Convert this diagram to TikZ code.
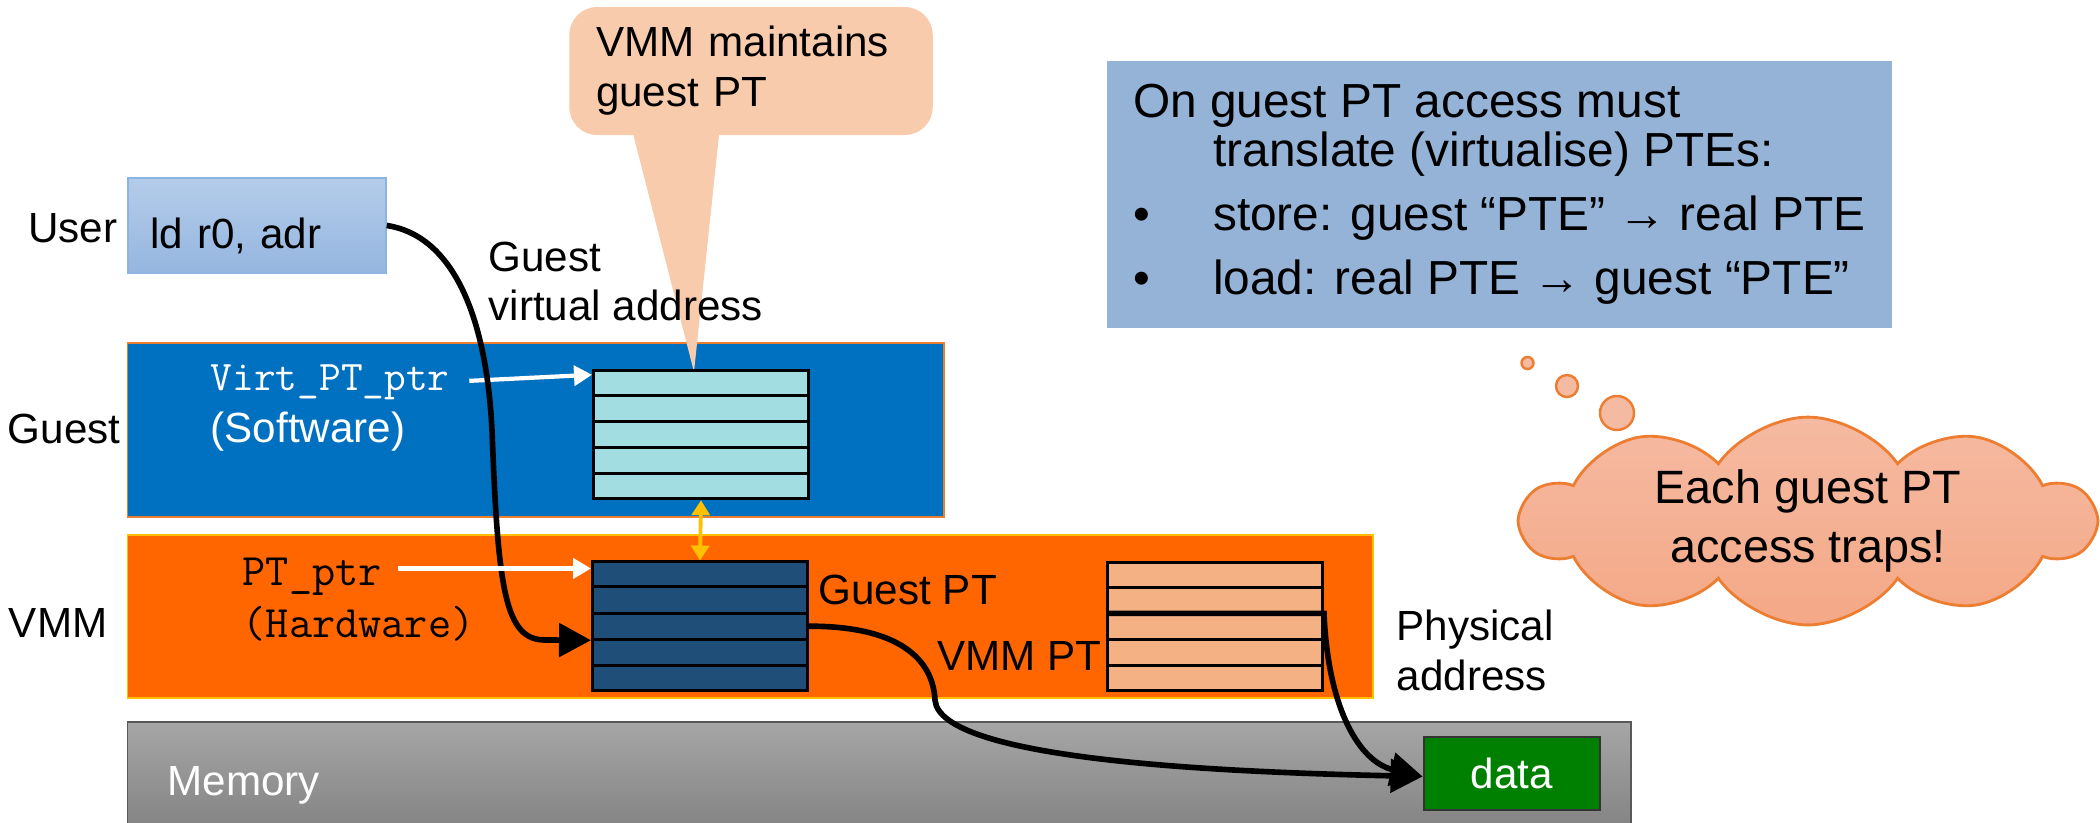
\documentclass[tikz,border=0pt]{standalone}
\usepackage{fontspec}
\setmainfont{Liberation Sans}
\usepackage{xcolor}
\usepackage{tikz}
\usetikzlibrary{shapes.symbols,arrows.meta,calc,positioning}

\definecolor{guestblue}{HTML}{0070C0}
\definecolor{vmmorange}{HTML}{FF6600}
\definecolor{edgeorange}{HTML}{ED7D31}
\definecolor{syncyellow}{HTML}{FFC000}
\definecolor{usertop}{HTML}{B4CCEA}
\definecolor{userbottom}{HTML}{95B6E0}
\definecolor{useredge}{HTML}{8DB3E2}
\definecolor{calloutfill}{HTML}{F8CBAD}
\definecolor{gvtfill}{HTML}{A1DDE1}
\definecolor{gptfill}{HTML}{1F4E79}
\definecolor{vptfill}{HTML}{F4B183}
\definecolor{memtop}{HTML}{A6A6A6}
\definecolor{membottom}{HTML}{7F7F7F}
\definecolor{memedge}{HTML}{595959}
\definecolor{datagreen}{HTML}{008000}
\definecolor{infoblue}{HTML}{95B3D7}
\definecolor{cloudtop}{HTML}{F5BAA2}
\definecolor{cloudbottom}{HTML}{F4A886}

\begin{document}
\begin{tikzpicture}[
		font=\fontsize{12}{14.2}\selectfont,
		band/.style={rectangle, inner sep=0pt, line width=0.4pt},
		band-guest/.style={band, fill=guestblue, draw=edgeorange},
		band-vmm/.style={band, fill=vmmorange, draw=syncyellow},
		band-memory/.style={band, top color=memtop, bottom color=membottom, draw=memedge},
		user-box/.style={rectangle, inner sep=0pt, top color=usertop, bottom color=userbottom, draw=useredge, line width=0.6pt},
		callout/.style={rectangle, rounded corners=0.28cm, fill=calloutfill, inner sep=0pt, align=left},
		info-box/.style={rectangle, fill=infoblue, inner sep=0pt, align=left, font=\fontsize{13.6}{13.9}\selectfont},
		pt-table/.style={rectangle, inner sep=0pt, draw=black, line width=0.85pt, minimum width=2.15cm, minimum height=1.285cm},
		pt-guestvirt/.style={pt-table, fill=gvtfill},
		pt-guest/.style={pt-table, fill=gptfill},
		pt-vmm/.style={pt-table, fill=vptfill},
		row-line/.style={black, line width=0.85pt},
		data-box/.style={rectangle, inner sep=0pt, fill=datagreen, draw=black!80, line width=0.8pt, text=white},
		trap-cloud/.style={cloud, cloud puffs=10, cloud puff arc=110, cloud ignores aspect, top color=cloudtop, bottom color=cloudbottom, draw=edgeorange, line width=0.8pt, inner sep=0pt, align=center, font=\fontsize{13.3}{16.8}\selectfont},
		trap-bubble/.style={fill=cloudtop, draw=edgeorange, line width=0.7pt},
		plain-label/.style={inner sep=0pt},
		ptr-label/.style={inner sep=0pt, font=\fontsize{12}{14}\selectfont\ttfamily},
		ptr-arrow/.style={white, line width=1.2pt, -{Triangle[length=0.18cm,width=0.2cm]}},
		map-arrow/.style={black, line width=1.6pt, -{Triangle[length=0.32cm,width=0.33cm]}},
		sync-arrow/.style={syncyellow, line width=1.1pt, {Triangle[length=0.15cm,width=0.18cm]}-{Triangle[length=0.15cm,width=0.18cm]}},
		]

		\newcommand\rowlines[1]{%
			\draw[row-line] ($(#1.north west)!0.2!(#1.south west)$) -- ($(#1.north east)!0.2!(#1.south east)$);
			\draw[row-line] ($(#1.north west)!0.4!(#1.south west)$) -- ($(#1.north east)!0.4!(#1.south east)$);
			\draw[row-line] ($(#1.north west)!0.6!(#1.south west)$) -- ($(#1.north east)!0.6!(#1.south east)$);
			\draw[row-line] ($(#1.north west)!0.8!(#1.south west)$) -- ($(#1.north east)!0.8!(#1.south east)$);
		}

		\useasboundingbox (0,0) rectangle (21,-8.22);

		% layers
		\node[band-guest, minimum width=8.164cm, minimum height=1.74cm] (guest) at (5.358,-4.30) {};
		\node[band-vmm, minimum width=12.454cm, minimum height=1.63cm] (vmm) at (7.503,-6.165) {};
		\node[band-memory, minimum width=15.034cm, minimum height=1.2cm] (memory) at (8.793,-7.82) {};

		\node[user-box, minimum width=2.58cm, minimum height=0.95cm, text width=2.13cm, text height=0.5cm, text depth=0.05cm, align=left] (user) at (2.567,-2.255) {ld r0, adr};

		% callout
		\coordinate (vtip) at (6.94,-3.72);
		\node[callout, minimum width=3.635cm, minimum height=1.28cm, text width=3.1cm] (maintain) at (7.51,-0.71) {VMM maintains\\guest PT};
		\fill[calloutfill] ($(maintain.south)+(-1.2,0.1)$) -- (vtip) -- ($(maintain.south)+(-0.31,0.1)$) -- cycle;

		\node[info-box, minimum width=7.85cm, minimum height=2.67cm] (info) at (14.995,-1.945) {On guest PT access must\\
			\hspace*{0.8cm}translate (virtualise) PTEs:\\[4.4pt]
			\makebox[0.8cm][l]{•}store: guest “PTE” → real PTE\\[4.4pt]
			\makebox[0.8cm][l]{•}load: real PTE → guest “PTE”};

		% page tables
		\node[pt-guestvirt] (gvt) at (7.01,-4.345) {};
		\node[pt-guest] (gpt) at (7.00,-6.262) {};
		\node[pt-vmm] (vpt) at (12.15,-6.265) {};
		\rowlines{gvt}
		\rowlines{gpt}
		\rowlines{vpt}

		\node[data-box, minimum width=1.76cm, minimum height=0.73cm] (data) at (15.12,-7.735) {data};

		% thought
		\node[trap-cloud, minimum width=5.71cm, minimum height=2.0cm] (traps) at (18.08,-5.21) {Each guest PT\\access traps!};
		\draw[trap-bubble] (15.275,-3.63) circle (0.06);
		\draw[trap-bubble] (15.67,-3.86) circle (0.11);
		\draw[trap-bubble] (16.17,-4.13) circle (0.17);

		% labels
		\node[plain-label, anchor=base east] (user-lbl) at (1.18,-2.42) {User};
		\node[plain-label, anchor=base east] (guest-lbl) at (1.21,-4.43) {Guest};
		\node[plain-label, anchor=base east] (vmm-lbl) at (1.08,-6.37) {VMM};
		\node[plain-label, anchor=west, align=left] (gva) at (4.88,-2.815) {Guest\\virtual address};
		\node[ptr-label, white, anchor=base west] (vptr) at (2.10,-3.90) {Virt\_PT\_ptr};
		\node[plain-label, white, anchor=base west] (vsoft) at (2.10,-4.42) {(Software)};
		\node[ptr-label, font=\fontsize{12.8}{14}\selectfont\ttfamily, anchor=base west] (hptr) at (2.42,-5.85) {PT\_ptr};
		\node[ptr-label, font=\fontsize{12.8}{14}\selectfont\ttfamily, anchor=base west] (hsoft) at (2.42,-6.37) {(Hardware)};
		\node[plain-label, anchor=base west] (gpt-lbl) at (8.18,-6.04) {Guest PT};
		\node[plain-label, anchor=base east] (vpt-lbl) at (11.02,-6.70) {VMM PT};
		\node[plain-label, anchor=west, align=left] (phys) at (13.96,-6.50) {Physical\\address};
		\node[plain-label, white, anchor=base west] (mem-lbl) at (1.67,-7.95) {Memory};

		% connectors
		\coordinate (ua-bend) at (4.92,-4.3);
		\coordinate (gpt-in) at ($(gpt.west)+(0,-0.14)$);
		\coordinate (gpt-out) at (9.35,-7.0);
		\coordinate (data-in) at ($(data.west)+(0,-0.03)$);
		\coordinate (vpt-r3w) at ($(vpt.north west)!0.4!(vpt.south west)$);
		\coordinate (vpt-r3e) at ($(vpt.north east)!0.4!(vpt.south east)$);
		\coordinate (gvt-in) at ($(gvt.north west)+(0,-0.06)$);
		\coordinate (gpt-ptr) at ($(gpt.north west)+(0,-0.08)$);

		\draw[sync-arrow] (gvt.south) -- (gpt.north);
		\draw[ptr-arrow, shorten <=0.19cm] (vptr.east) -- (gvt-in);
		\draw[map-arrow] (user.east) .. controls (4.5,-2.35) and (4.86,-3.1) .. (ua-bend)
		.. controls (4.98,-5.9) and (5.05,-6.40) .. (5.45,-6.40) -- (gpt-in);
		\draw[map-arrow] (gpt.east) .. controls (9.0,-6.26) and (9.33,-6.6) .. (gpt-out)
		.. controls (9.4,-7.6) and (12.2,-7.72) .. (data-in);
		\draw[map-arrow] (vpt-r3w) -- (vpt-r3e) .. controls (13.28,-7.1) and (13.6,-7.62) .. (data-in);
		\draw[ptr-arrow, shorten <=0.16cm] (hptr.east |- gpt-ptr) -- (gpt-ptr);

	\end{tikzpicture}
\end{document}
